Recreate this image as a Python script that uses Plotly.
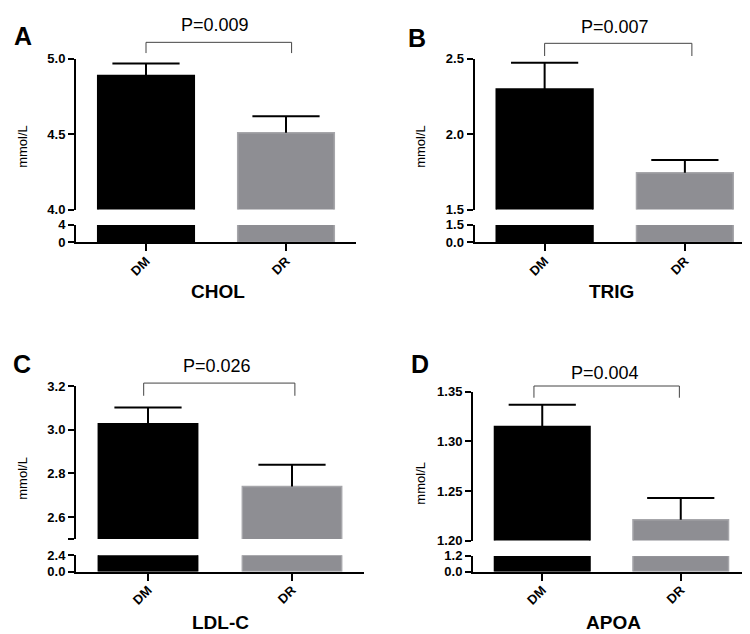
import plotly.graph_objects as go

W, H = 750, 634

groups = ["DM", "DR"]
group_colors = ["#000000", "#8e8e93"]
group_edges = ["#000000", "#a6a6aa"]

# Panel data (mean, upper error)
panels = ["CHOL", "TRIG", "LDL-C", "APOA"]
letters = ["A", "B", "C", "D"]
p_values = ["P=0.009", "P=0.007", "P=0.026", "P=0.004"]

chol_mean = [4.89, 4.51]
chol_err = [0.08, 0.11]
trig_mean = [2.30, 1.745]
trig_err = [0.175, 0.085]
ldl_mean = [3.027, 2.74]
ldl_err = [0.075, 0.10]
apoa_mean = [1.315, 1.221]
apoa_err = [0.022, 0.022]

# broken-axis ranges and tick labels
chol_upper = [4.0, 5.0]
chol_upper_ticks = [4.0, 4.5, 5.0]
chol_upper_text = ["4.0", "4.5", "5.0"]
chol_lower = [0, 4]
chol_lower_ticks = [0, 4]
chol_lower_text = ["0", "4"]

trig_upper = [1.5, 2.5]
trig_upper_ticks = [1.5, 2.0, 2.5]
trig_upper_text = ["1.5", "2.0", "2.5"]
trig_lower = [0, 1.5]
trig_lower_ticks = [0, 1.5]
trig_lower_text = ["0.0", "1.5"]

ldl_upper = [2.5, 3.2]
ldl_upper_ticks = [2.5, 2.6, 2.8, 3.0, 3.2]
ldl_upper_text = ["", "2.6", "2.8", "3.0", "3.2"]
ldl_lower = [0, 2.4]
ldl_lower_ticks = [0, 2.4]
ldl_lower_text = ["0.0", "2.4"]

apoa_upper = [1.20, 1.35]
apoa_upper_ticks = [1.20, 1.25, 1.30, 1.35]
apoa_upper_text = ["1.20", "1.25", "1.30", "1.35"]
apoa_lower = [0, 1.2]
apoa_lower_ticks = [0, 1.2]
apoa_lower_text = ["0.0", "1.2"]

# bracket extents in category units
bracket_x = [(0.0, 1.04), (0.0, 1.05), (-0.03, 1.02), (-0.06, 0.99)]

data = [
    (chol_mean, chol_err, chol_upper, chol_upper_ticks, chol_upper_text, chol_lower, chol_lower_ticks, chol_lower_text),
    (trig_mean, trig_err, trig_upper, trig_upper_ticks, trig_upper_text, trig_lower, trig_lower_ticks, trig_lower_text),
    (ldl_mean, ldl_err, ldl_upper, ldl_upper_ticks, ldl_upper_text, ldl_lower, ldl_lower_ticks, ldl_lower_text),
    (apoa_mean, apoa_err, apoa_upper, apoa_upper_ticks, apoa_upper_text, apoa_lower, apoa_lower_ticks, apoa_lower_text),
]

# layout in pixels
geom = [
    dict(x=(68, 348), up=(45, 199.3), lo=(215, 233), letter=(15, 22), p=(207, 10), br=(28, 39), title=(210, 283), ylab=(15, 135)),
    dict(x=(466.5, 747), up=(45, 199.3), lo=(215, 233), letter=(409, 24), p=(607, 12), br=(29, 42), title=(603, 283), ylab=(413, 135)),
    dict(x=(68, 356), up=(380, 536.7), lo=(553.3, 570), letter=(14, 357), p=(209, 359), br=(377, 390), title=(213, 622), ylab=(15, 475)),
    dict(x=(465, 742), up=(386, 538.3), lo=(554, 570), letter=(412, 357), p=(597, 367), br=(380, 392), title=(605, 622), ylab=(413, 480)),
]

FONT = "Arial, Liberation Sans, sans-serif"

def px(xp):
    return xp / W

def py(yp):
    return 1 - yp / H

fig = go.Figure()
layout = dict(
    width=W, height=H, margin=dict(l=0, r=0, t=0, b=0),
    paper_bgcolor="white", plot_bgcolor="white", showlegend=False,
    font=dict(family=FONT, color="black"),
)
shapes = []
annotations = []

for i, (mean, err, up, upt, uptx, lo, lot, lotx) in enumerate(data):
    g = geom[i]
    xn = i + 1
    yu = 2 * i + 1
    yl = 2 * i + 2
    xname = "x" if xn == 1 else f"x{xn}"
    yuname = "y" if yu == 1 else f"y{yu}"
    ylname = f"y{yl}"
    xs = [0, 1]
    tops = [m + e for m, e in zip(mean, err)]
    # upper part with error stems
    fig.add_trace(go.Bar(
        x=xs, y=mean, xaxis=xname, yaxis=yuname, width=0.69,
        marker=dict(color=group_colors, line=dict(color=group_edges, width=1.5)),
        error_y=dict(type="data", symmetric=False, array=err, arrayminus=[0, 0],
                     color="black", thickness=2, width=0),
    ))
    # error caps
    fig.add_trace(go.Scatter(
        x=xs, y=tops, xaxis=xname, yaxis=yuname, mode="markers",
        marker=dict(symbol="line-ew", size=48, color="black",
                    line=dict(color="black", width=2)),
        cliponaxis=False, hoverinfo="skip",
    ))
    # lower part
    fig.add_trace(go.Bar(
        x=xs, y=mean, xaxis=xname, yaxis=ylname, width=0.69,
        marker=dict(color=group_colors, line=dict(color=group_edges, width=1.5)),
    ))
    xkey = "xaxis" if xn == 1 else f"xaxis{xn}"
    yukey = "yaxis" if yu == 1 else f"yaxis{yu}"
    ylkey = f"yaxis{yl}"
    layout[xkey] = dict(
        domain=[px(g["x"][0]), px(g["x"][1])], range=[-0.5, 1.5], anchor=ylname,
        tickvals=xs, ticktext=groups, tickangle=-45,
        showline=True, linewidth=2, linecolor="black", ticks="outside",
        ticklen=7, tickwidth=2, tickcolor="black", showgrid=False, zeroline=False,
        tickfont=dict(size=13, family=FONT, weight="bold"), fixedrange=True,
        ticklabelstandoff=-3,
    )
    common_y = dict(
        anchor=xname, showline=True, linewidth=2, linecolor="black", ticks="outside",
        ticklen=6, tickwidth=2, tickcolor="black", showgrid=False, zeroline=False,
        tickfont=dict(size=13, family=FONT, weight="bold"), ticklabelstandoff=0,
    )
    layout[yukey] = dict(domain=[py(g["up"][1]), py(g["up"][0])], range=up,
                         tickvals=upt, ticktext=uptx, **common_y)
    layout[ylkey] = dict(domain=[py(g["lo"][1]), py(g["lo"][0])], range=lo,
                         tickvals=lot, ticktext=lotx, **common_y)

    # significance bracket
    bx0, bx1 = bracket_x[i]
    ytop = py(g["br"][0])
    ybot = py(g["br"][1])
    shapes.append(dict(
        type="path", xref=xname, yref="paper",
        path=f"M {bx0},{ybot} L {bx0},{ytop} L {bx1},{ytop} L {bx1},{ybot}",
        line=dict(color="#444444", width=1),
    ))
    annotations.append(dict(text=p_values[i], x=px(g["p"][0]), y=py(g["p"][1]),
                            xref="paper", yref="paper", showarrow=False,
                            font=dict(size=18, family=FONT), xanchor="center", yanchor="middle"))
    annotations.append(dict(text=letters[i], x=px(g["letter"][0]), y=py(g["letter"][1]),
                            xref="paper", yref="paper", showarrow=False,
                            font=dict(size=25, family=FONT, weight="bold"),
                            xanchor="center", yanchor="middle"))
    annotations.append(dict(text=panels[i], x=px(g["title"][0]), y=py(g["title"][1]),
                            xref="paper", yref="paper", showarrow=False,
                            font=dict(size=19, family=FONT, weight="bold"),
                            xanchor="center", yanchor="middle"))
    annotations.append(dict(text="mmol/L", x=px(g["ylab"][0]), y=py(g["ylab"][1]),
                            xref="paper", yref="paper", showarrow=False, textangle=-90,
                            font=dict(size=13, family=FONT),
                            xanchor="center", yanchor="middle"))

layout["shapes"] = shapes
layout["annotations"] = annotations
fig.update_layout(**layout)
fig.write_html("out.html")
